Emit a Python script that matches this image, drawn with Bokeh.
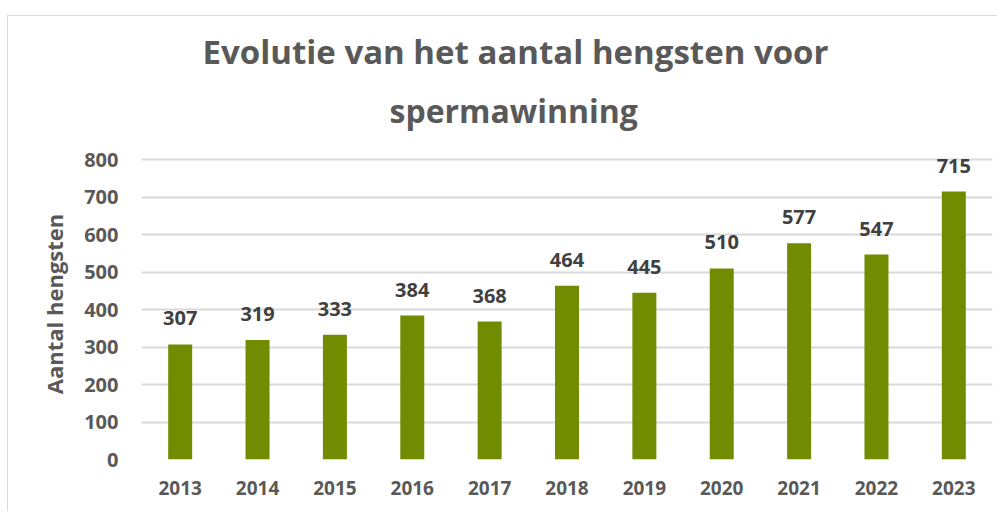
from bokeh.plotting import figure
from bokeh.models import ColumnDataSource, Title, LabelSet, Range1d, FixedTicker
from bokeh.core.properties import value
from bokeh.embed import file_html
from bokeh.resources import INLINE

years = ["2013", "2014", "2015", "2016", "2017", "2018", "2019", "2020", "2021", "2022", "2023"]
counts = [307, 319, 333, 384, 368, 464, 445, 510, 577, 547, 715]
y_ticks = [0, 100, 200, 300, 400, 500, 600, 700, 800]
title_line1 = "Evolutie van het aantal hengsten voor"
title_line2 = "spermawinning"
y_label = "Aantal hengsten"

FONT = "Open Sans"
source = ColumnDataSource(data=dict(years=years, counts=counts, labels=[str(c) for c in counts]))

p = figure(
    x_range=years, y_range=Range1d(0, 830),
    width=990, height=496,
    output_backend="svg", toolbar_location=None,
    min_border_left=133, min_border_right=6, min_border_top=132, min_border_bottom=53,
    margin=(15, 0, 0, 7),
    styles={"border-left": "1px solid #d9d9d9", "border-top": "1px solid #d9d9d9"},
)
p.title = None
t2 = Title(text=title_line2, align="left", offset=248, text_font=FONT, text_font_size="32px",
           text_font_style="bold", text_color="#595959", standoff=30, vertical_align="top",
           text_line_height=0.7)
t1 = Title(text=title_line1, align="left", offset=61, text_font=FONT, text_font_size="33px",
           text_font_style="bold", text_color="#595959", standoff=0, vertical_align="bottom",
           text_line_height=0.7)
p.add_layout(t2, "above")
p.add_layout(t1, "above")

p.vbar(x="years", top="counts", width=0.31, source=source, color="#718c00", line_color=None)

labels = LabelSet(x="years", y="counts", text="labels", source=source, text_align="center",
                  text_baseline="bottom", y_offset=19, text_font=value(FONT), text_font_size="20px",
                  text_font_style="bold", text_color="#404040")
p.add_layout(labels)

p.outline_line_color = None
p.xgrid.grid_line_color = None
p.ygrid.grid_line_color = "#d9d9d9"
p.ygrid.grid_line_width = 2
p.yaxis.ticker = FixedTicker(ticks=y_ticks)

for ax in (p.xaxis, p.yaxis):
    ax.axis_line_color = None
    ax.major_tick_line_color = None
    ax.minor_tick_line_color = None
    ax.major_label_text_font = FONT
    ax.major_label_text_font_size = "19px"
    ax.major_label_text_font_style = "bold"
    ax.major_label_text_color = "#595959"

p.yaxis.major_label_text_font_size = "20px"
p.yaxis.major_label_standoff = 17
p.yaxis.axis_label = y_label
p.yaxis.axis_label_text_font = FONT
p.yaxis.axis_label_text_font_size = "22px"
p.yaxis.axis_label_text_font_style = "bold"
p.yaxis.axis_label_text_color = "#595959"
p.yaxis.axis_label_standoff = 12
p.xaxis.major_label_standoff = 15

open("out.html", "w").write(file_html(p, INLINE))
